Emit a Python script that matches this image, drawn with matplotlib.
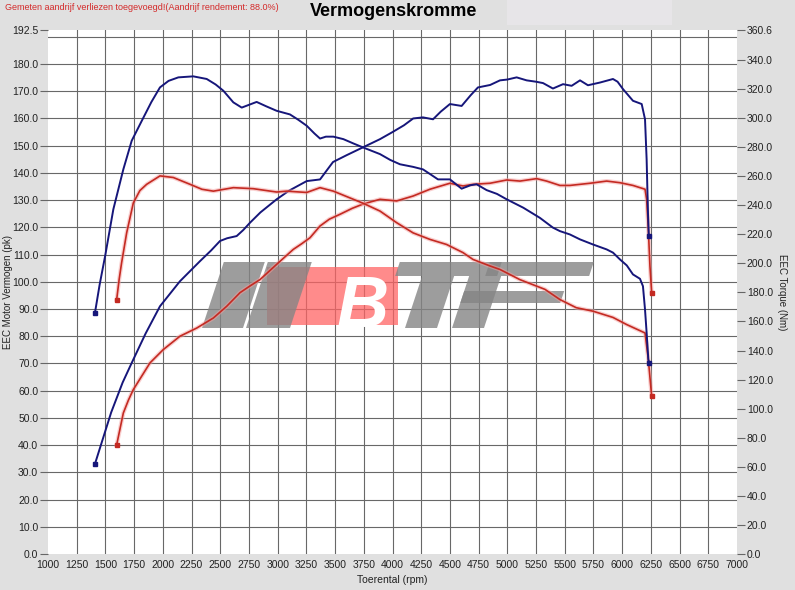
import matplotlib
matplotlib.use("Agg")
import matplotlib.pyplot as plt
from matplotlib.patches import Polygon, Rectangle

plt.rcParams['font.family'] = ['Liberation Sans', 'DejaVu Sans']

# tuned run (blue)
rpm_pw_tuned = [1409, 1453, 1550, 1650, 1729, 1850, 1975, 2149, 2324, 2420, 2498, 2560, 2643, 2700,
                2759, 2850, 2991, 3100, 3253, 3369, 3420, 3482, 3600, 3743, 3891, 4000, 4100, 4180,
                4265, 4353, 4420, 4500, 4602, 4680, 4744, 4850, 4936, 5000, 5081, 5168, 5250, 5311,
                5397, 5485, 5560, 5633, 5702, 5807, 5920, 5960, 6007, 6094, 6170, 6199, 6213, 6225, 6232]
pw_tuned = [33.1, 39, 52, 63, 70.2, 81, 91, 100.2, 107.6, 111.5, 115, 116, 116.8, 119,
            121.7, 125.5, 130.3, 133.5, 137, 137.6, 140.5, 144, 146.5, 149.4, 152.4, 155, 157.5, 160,
            160.4, 159.7, 162.5, 165.3, 164.6, 168.5, 171.4, 172.3, 174, 174.3, 175.1, 174, 173.5, 173,
            171, 172.6, 172, 174, 172.2, 173.2, 174.5, 173.5, 170.8, 166.5, 165.3, 159.7, 145, 125, 117]

rpm_tq_tuned = [1409, 1450, 1500, 1569, 1656, 1729, 1816, 1900, 1975, 2050, 2135, 2265, 2382, 2460,
                2527, 2614, 2687, 2750, 2817, 2900, 2991, 3107, 3180, 3253, 3320, 3369, 3420, 3485,
                3572, 3660, 3746, 3891, 3980, 4065, 4180, 4265, 4330, 4396, 4500, 4602, 4680, 4733,
                4820, 4910, 4994, 5139, 5284, 5397, 5458, 5545, 5633, 5746, 5865, 5920, 5981, 6040,
                6094, 6155, 6181, 6199, 6213, 6228, 6236]
tq_tuned = [166.0, 185.5, 206.1, 237.2, 264.7, 284.4, 298.0, 311.0, 321.1, 325.6, 328.0, 328.7, 326.9, 323.1,
            318.8, 310.8, 307.2, 309.1, 311.1, 308.1, 305.0, 302.5, 298.8, 294.7, 289.4, 285.9, 287.2, 287.2,
            285.5, 282.5, 279.7, 275.2, 271.2, 268.2, 266.4, 264.7, 261.3, 257.8, 257.8, 251.4, 253.8, 254.4,
            250.4, 247.8, 244.1, 238.3, 231.3, 224.6, 222.2, 219.9, 216.5, 213.0, 209.6, 207.4, 202.7, 198.6,
            192.4, 189.4, 184.3, 168.2, 152.3, 133.7, 131.7]

# stock run (red)
rpm_pw_stock = [1598, 1656, 1700, 1743, 1888, 2004, 2149, 2295, 2440, 2556, 2672, 2760, 2846, 2991,
                3136, 3210, 3282, 3369, 3450, 3543, 3650, 3746, 3891, 4036, 4179, 4326, 4500, 4614,
                4701, 4849, 4994, 5110, 5255, 5342, 5458, 5545, 5720, 5865, 5981, 6094, 6199, 6213,
                6228, 6242, 6257]
pw_stock = [40.1, 51.8, 56.5, 60.4, 70.2, 75.1, 80, 83, 86.7, 91, 96, 98.5, 100.8, 106.4,
            111.9, 114, 116.2, 120.5, 123, 124.8, 127, 128.6, 130.3, 129.7, 131.5, 134, 136.2, 135.2,
            135.8, 136.2, 137.4, 137, 137.9, 137, 135.4, 135.4, 136.2, 137, 136.4, 135.4, 134, 130.3,
            119.2, 105.7, 96]

rpm_tq_stock = [1598, 1620, 1641, 1685, 1743, 1800, 1859, 1975, 2091, 2237, 2340, 2440, 2614, 2788,
                2991, 3078, 3253, 3369, 3485, 3600, 3746, 3891, 4036, 4179, 4326, 4471, 4614, 4701,
                4850, 4936, 5110, 5328, 5458, 5600, 5746, 5920, 6039, 6199, 6228, 6257]
tq_stock = [175.1, 189.2, 200.4, 221.0, 241.6, 250.1, 254.4, 260.2, 259.1, 254.4, 251.0, 249.7, 252.1, 251.4,
            249.1, 249.7, 248.8, 252.1, 249.7, 246.0, 241.3, 236.0, 228.0, 221.0, 216.5, 213.0, 207.4, 202.7,
            198.2, 195.8, 188.8, 182.1, 175.1, 169.5, 167.1, 162.8, 157.9, 152.1, 133.7, 108.5]

left_ticks = [0, 10, 20, 30, 40, 50, 60, 70, 80, 90, 100, 110, 120, 130, 140, 150, 160, 170, 180, 192.5]
right_ticks = [0, 20, 40, 60, 80, 100, 120, 140, 160, 180, 200, 220, 240, 260, 280, 300, 320, 340, 360.6]
x_ticks = list(range(1000, 7001, 250))

W, H = 795, 590
BLUE = '#16167a'
RED = '#c42a22'
BG = '#e0e0e0'

fig = plt.figure(figsize=(W / 100, H / 100), dpi=100, facecolor=BG)
ax = fig.add_axes([48 / W, 1 - 554 / H, (737 - 48) / W, (554 - 30) / H])
ax2 = ax.twinx()


def px(x, y):
    return (x / W, 1 - y / H)


# slightly lighter patch next to the title
fig.patches.append(Rectangle(px(507, 25), (672 - 507) / W, 25 / H, transform=fig.transFigure,
                             facecolor='#e7e5e8', edgecolor='none', zorder=0))

ax.set_xlim(1000, 7000)
ax.set_ylim(0, 192.5)
ax2.set_ylim(0, 360.6)
for a in (ax, ax2):
    for s in a.spines.values():
        s.set_visible(False)

for x in range(1250, 7000, 250):
    ax.axvline(x, color='#686868', lw=0.8, zorder=1)
for y in range(10, 191, 10):
    ax.axhline(y, color='#686868', lw=0.8, zorder=1)

# watermark logo
sl = 0.33


def slanted(u0, u1, yt, yb):
    return [px(u0 + sl * (328 - yb), yb), px(u1 + sl * (328 - yb), yb),
            px(u1 + sl * (328 - yt), yt), px(u0 + sl * (328 - yt), yt)]


gray = '#858585'
ax.add_patch(Rectangle(px(267, 325), (398 - 267) / W, 58 / H, transform=fig.transFigure,
                       facecolor='#ff6464', alpha=0.75, edgecolor='none', zorder=1.5))
for poly in [slanted(202, 243, 262, 328), slanted(246, 290, 262, 328),
             slanted(378, 480, 262, 276), slanted(405, 437, 276, 328),
             slanted(468, 572, 262, 276), slanted(452, 484, 276, 328),
             slanted(452, 552, 291, 303)]:
    ax.add_patch(Polygon(poly, closed=True, transform=fig.transFigure, facecolor=gray,
                         alpha=0.8, edgecolor='none', zorder=1.6))
fig.text(337 / W, 1 - 327 / H, 'B', transform=fig.transFigure, fontsize=52, fontweight='bold',
         style='italic', color='white', ha='left', va='baseline', zorder=1.7)

# curves
ax.plot(rpm_pw_stock, pw_stock, color='#f4a0a0', lw=3, alpha=0.5, zorder=2.5)
ax.plot(rpm_pw_stock, pw_stock, color=RED, lw=1.2, zorder=3,
        marker='s', markersize=2.5, markevery=[0, len(pw_stock) - 1])
ax.plot(rpm_pw_tuned, pw_tuned, color=BLUE, lw=1.4, zorder=3,
        marker='s', markersize=2.5, markevery=[0, len(pw_tuned) - 1])
ax2.plot(rpm_tq_stock, tq_stock, color='#f4a0a0', lw=3, alpha=0.5, zorder=2.5)
ax2.plot(rpm_tq_stock, tq_stock, color=RED, lw=1.2, zorder=3,
         marker='s', markersize=2.5, markevery=[0, len(tq_stock) - 1])
ax2.plot(rpm_tq_tuned, tq_tuned, color=BLUE, lw=1.4, zorder=3,
         marker='s', markersize=2.5, markevery=[0, len(tq_tuned) - 1])

ax.set_xticks(x_ticks)
ax.set_xticklabels([str(v) for v in x_ticks])
ax.set_yticks(left_ticks)
ax.set_yticklabels([f'{v:.1f}' for v in left_ticks])
ax2.set_yticks(right_ticks)
ax2.set_yticklabels([f'{v:.1f}' for v in right_ticks])

ax.tick_params(axis='x', length=0, pad=4, labelsize=7.5, labelcolor='#222')
ax.tick_params(axis='y', length=6, width=0.8, color='#666', pad=1, labelsize=7.5, labelcolor='#222')
ax2.tick_params(axis='y', length=6, width=0.8, color='#666', pad=1, labelsize=7.5, labelcolor='#222')

ax.set_xlabel('Toerental (rpm)', fontsize=7.5, color='#222', labelpad=4)
ax.set_ylabel('EEC Motor Vermogen (pk)', fontsize=7, color='#222', va='center')
ax.yaxis.set_label_coords((8 - 48) / 689, 0.5)
ax2.set_ylabel('EEC Torque (Nm)', fontsize=7, color='#222', rotation=270, va='center')
ax2.yaxis.set_label_coords((782 - 48) / 689, 0.5)

fig.text(394 / W, 1 - 12 / H, 'Vermogenskromme', fontsize=13, fontweight='bold',
         ha='center', va='center', color='black')
fig.text(5 / W, 1 - 8 / H, 'Gemeten aandrijf verliezen toegevoegd!(Aandrijf rendement: 88.0%)',
         fontsize=6.5, ha='left', va='center', color='#d42a2a')

fig.savefig('out.png', dpi=100, facecolor=BG)
